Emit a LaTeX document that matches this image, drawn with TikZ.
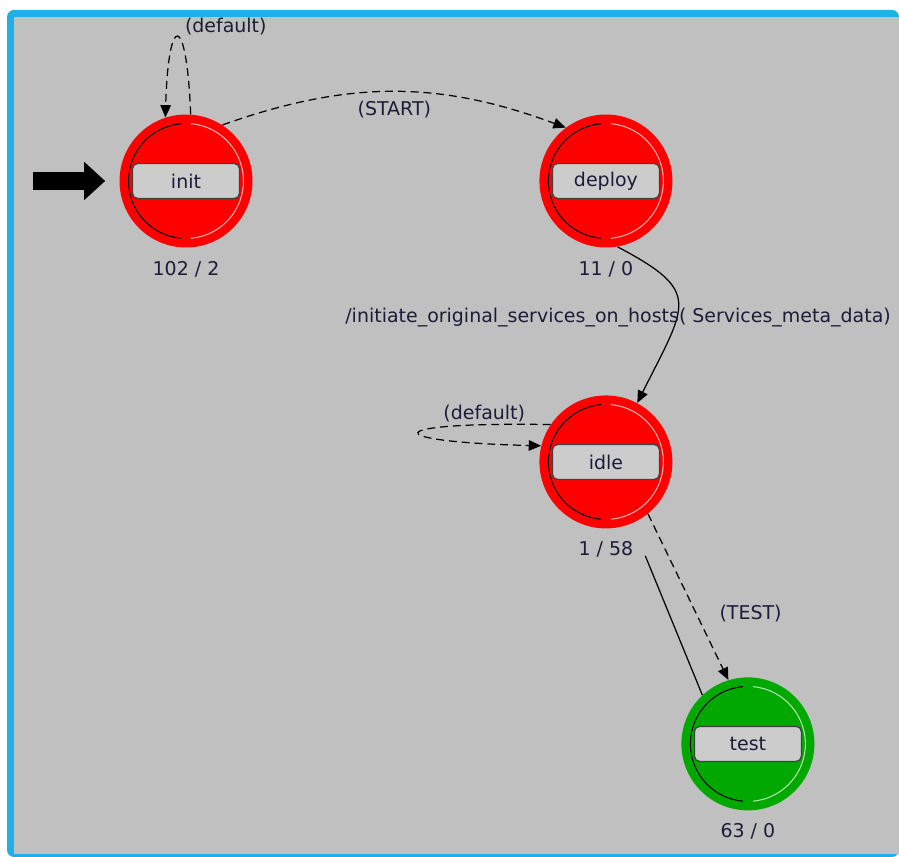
\documentclass[tikz,border=0pt]{standalone}
\usepackage{fontspec}
\setmainfont{DejaVu Sans}
\usetikzlibrary{arrows.meta,positioning}

\definecolor{frameblue}{RGB}{30,176,230}
\definecolor{canvasgray}{RGB}{192,192,192}
\definecolor{boxgray}{RGB}{204,204,204}
\definecolor{stategreen}{RGB}{0,168,0}
\definecolor{labeltext}{RGB}{28,28,56}

\tikzset{
  opstate/.style={circle, fill=#1, inner sep=0pt, minimum size=2.66cm,
    text=labeltext,
    path picture={
      \draw[line width=0.6pt, black] (path picture bounding box.center)
        ++(95:1.15cm) arc[start angle=95, end angle=265, radius=1.15cm];
      \draw[line width=0.6pt, white!70!#1] (path picture bounding box.center)
        ++(85:1.15cm) arc[start angle=85, end angle=-85, radius=1.15cm];
      \draw[line width=0.7pt, draw=black!75, fill=boxgray, rounded corners=3pt]
        ([shift={(-1.07cm,-0.35cm)}]path picture bounding box.center) rectangle
        ([shift={(1.07cm,0.35cm)}]path picture bounding box.center);
    }},
  countlabel/.style={text=labeltext, inner sep=1pt, yshift=-0.22cm},
  tlabel/.style={text=labeltext, inner sep=1pt},
  uncond/.style={line width=0.7pt, ->},
  cond/.style={uncond, dash pattern=on 4.5pt off 2.8pt},
  entryarrow/.style={line width=0.36cm, -{Triangle[length=0.42cm,width=0.74cm]}}
}

\begin{document}
\begin{tikzpicture}[%
    x=0.02cm, y=0.02cm,
    >={Triangle[length=7pt,width=6pt]},
    on grid,
    font=\fontsize{10.8}{13}\selectfont
    ]
    \useasboundingbox (0,0) rectangle (899,-857);
    \fill[white] (0,0) rectangle (899,-857);
    \fill[frameblue, rounded corners=4] (7,-10) rectangle (899,-857);
    \fill[canvasgray] (14,-17) rectangle (899,-854);

    \node[opstate=red, label={[countlabel]below:102 / 2}] (init) at (186,-181) {init};
    \node[opstate=red, label={[countlabel]below:11 / 0}, right=8.4cm of init] (deploy) {deploy};
    \node[opstate=red, label={[countlabel]below:1 / 58}, below=5.62cm of deploy] (idle) {idle};
    \node[opstate=stategreen, label={[countlabel]below:63 / 0},
          below right=5.64cm and 2.84cm of idle] (test) {test};

    \coordinate (entry) at (33,-181);
    \draw[entryarrow, shorten >=0.28cm] (entry) -- (init);

    \draw[cond] (init.86) .. controls +(-4,103) and +(3,106) .. (init.108)
        node[pos=0.5, anchor=south west, xshift=0.1cm, tlabel] {(default)};
    \draw[cond] (init.57) to[bend left=20]
        node[midway, below=4pt, tlabel] {(START)} (deploy.127);
    \draw[uncond] (deploy.-80) .. controls +(85,-45) and +(50,100) ..
        node[pos=0.5, xshift=-1.2cm, yshift=-0.27cm, tlabel]
        {/initiate\_original\_services\_on\_hosts( Services\_meta\_data)} (idle.62);
    \draw[cond] (idle.146) .. controls +(-173,3) and +(-164,4) .. (idle.166)
        node[pos=0.15, above, tlabel] {(default)};
    \draw[cond] (idle.-51) --
        node[pos=0.6, anchor=west, xshift=0.42cm, tlabel] {(TEST)} (test.107);
    \draw[line width=0.7pt, shorten >=0.7cm] (test.133) -- (idle.-67);

\end{tikzpicture}
\end{document}
